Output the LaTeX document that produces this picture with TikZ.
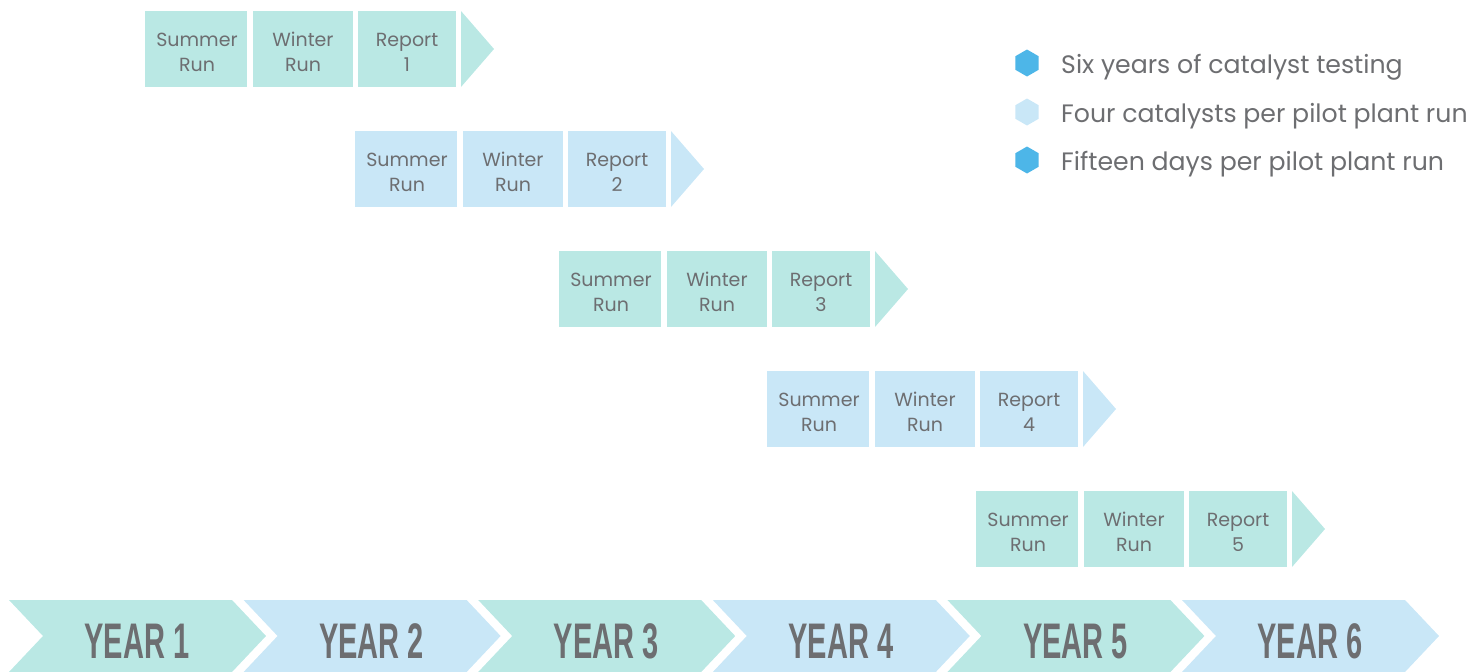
\documentclass[tikz,border=0pt]{standalone}
\usepackage{fontspec}
\setmainfont{Poppins}
\newfontfamily\yearfont{Liberation Sans}
\usetikzlibrary{shapes.geometric}
\definecolor{teal1}{HTML}{BAE8E4}
\definecolor{blue1}{HTML}{C9E7F7}
\definecolor{hexblue}{HTML}{4DB6E8}
\definecolor{txtgray}{HTML}{6D6E71}
\newcommand{\topstrut}{\rule{0pt}{20pt}}
\newcommand{\botstrut}{\rule[-6pt]{0pt}{6pt}}
\tikzset{
  runbox/.style={inner sep=0pt, text=txtgray, font=\fontsize{19}{25}\selectfont, align=center},
  yeartxt/.style={inner sep=0pt, text=txtgray, anchor=base},
  legtxt/.style={inner sep=0pt, text=txtgray, anchor=base west, font=\fontsize{25.2}{30}\selectfont},
  hexmark/.style={regular polygon, regular polygon sides=6, shape border rotate=90, minimum size=27pt, inner sep=0pt},
}
\begin{document}
\begin{tikzpicture}[x=1pt,y=-1pt]
\useasboundingbox (0,0) rectangle (1484,672);
% timeline chevrons
\foreach \i/\c in {1/teal1,2/blue1,3/teal1,4/blue1,5/teal1,6/blue1}{
  \pgfmathsetmacro{\xo}{9+234.6*(\i-1)}
  \fill[\c] (\xo,600) -- (\xo+223,600) -- (\xo+257,636) -- (\xo+223,672) -- (\xo,672) -- (\xo+34,636) -- cycle;
  \node[yeartxt] (year\i) at (\xo+128,658) {\scalebox{0.58}[1]{\yearfont\bfseries\fontsize{50}{50}\selectfont YEAR \i}};
}
% runs
\foreach \r/\sx/\ty/\c in {1/145/11/teal1,2/355/131/blue1,3/559/251/teal1,4/767/371/blue1,5/976/491/teal1}{
  \fill[\c] (\sx,\ty) rectangle (\sx+102,\ty+76);
  \fill[\c] (\sx+108,\ty) rectangle (\sx+208,\ty+76);
  \fill[\c] (\sx+213,\ty) rectangle (\sx+311,\ty+76);
  \fill[\c] (\sx+316,\ty) -- (\sx+349,\ty+38) -- (\sx+316,\ty+76) -- cycle;
  \node[runbox] (sum\r) at (\sx+52,\ty+40.5) {\topstrut Summer\\Run\botstrut};
  \node[runbox] (win\r) at (\sx+158,\ty+40.5) {\topstrut Winter\\Run\botstrut};
  \node[runbox] (rep\r) at (\sx+262,\ty+40.5) {\topstrut Report\\\r\botstrut};
}
% legend
\node[hexmark, fill=hexblue] (h1) at (1027,63) {};
\node[hexmark, fill=blue1] (h2) at (1027,112) {};
\node[hexmark, fill=hexblue] (h3) at (1027,160) {};
\node[legtxt] (l1) at (1061,73) {Six years of catalyst testing};
\node[legtxt] (l2) at (1061,122) {Four catalysts per pilot plant run};
\node[legtxt] (l3) at (1061,170) {Fifteen days per pilot plant run};
\end{tikzpicture}
\end{document}
